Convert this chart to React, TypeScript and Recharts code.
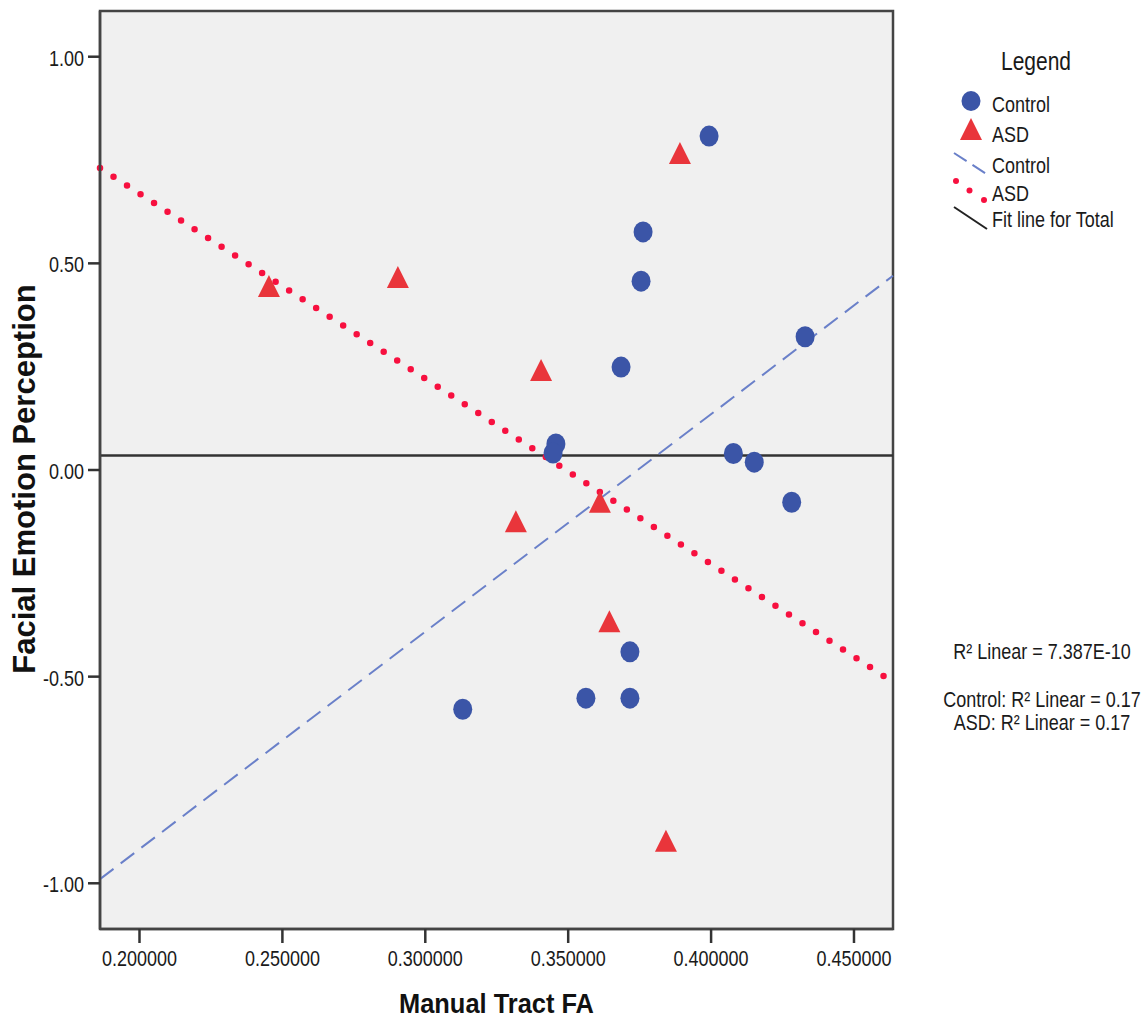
import {
  CartesianGrid,
  ReferenceArea,
  ReferenceLine,
  Scatter,
  ScatterChart,
  XAxis,
  YAxis,
} from 'recharts';

// values
const controlFA = [
  0.3993, 0.3762, 0.3755, 0.3685, 0.4329, 0.3457, 0.3447, 0.4078, 0.4151, 0.4282, 0.3716, 0.3562,
  0.3716, 0.3131,
];
const controlFEP = [
  0.808, 0.576, 0.457, 0.249, 0.3225, 0.063, 0.041, 0.04, 0.019, -0.078, -0.44, -0.552, -0.552,
  -0.579,
];
const asdFA = [0.3891, 0.2904, 0.2453, 0.3405, 0.3317, 0.3611, 0.3644, 0.3842];
const asdFEP = [0.767, 0.467, 0.445, 0.242, -0.124, -0.077, -0.366, -0.897];

const xDomain = [0.18618, 0.46365];
const yDomain = [-1.1106, 1.1106];
const xTicks = [0.2, 0.25, 0.3, 0.35, 0.4, 0.45];
const yTicks = [-1, -0.5, 0, 0.5, 1];

// fit line ends at the left / right edge of the plot
const controlFit = [-0.99, 0.47];
const asdFit = [0.731, -0.513];
const totalFit = [0.035, 0.035];

const legendItems = ['Control', 'ASD', 'Control', 'ASD', 'Fit line for Total'];
const rSquaredNotes = ['R² Linear = 7.387E-10', 'Control: R² Linear = 0.17', 'ASD: R² Linear = 0.17'];

const controlData = controlFA.map((x, i) => ({ x, y: controlFEP[i] }));
const asdData = asdFA.map((x, i) => ({ x, y: asdFEP[i] }));

const FONT = '"Liberation Sans", Arial, sans-serif';
const BLUE = '#3b55a7';
const RED = '#e9353b';
const DASH_BLUE = '#6a80c9';
const DOT_RED = '#f7103f';
const STRETCH = 1.22;

// SPSS output is a bit taller than wide, so text gets a small vertical stretch
const TallText = ({ x, y, anchor = 'start', size = 18, children }: any) => (
  <text
    transform={`translate(${x} ${y}) scale(1 ${STRETCH})`}
    textAnchor={anchor}
    fontSize={size}
    fontFamily={FONT}
    fill="#1a1a1a"
  >
    {children}
  </text>
);

const circleShape = (props: any) => (
  <ellipse cx={props.cx} cy={props.cy} rx={9.5} ry={10.5} fill={BLUE} />
);

const triangleShape = (props: any) => {
  const { cx, cy } = props;
  return (
    <polygon
      points={`${cx},${cy - 11} ${cx - 11},${cy + 11} ${cx + 11},${cy + 11}`}
      fill={RED}
    />
  );
};

const XTick = (props: any) => (
  <TallText x={props.x} y={props.y + 15} anchor="middle">
    {Number(props.payload.value).toFixed(6)}
  </TallText>
);

const YTick = (props: any) => (
  <TallText x={props.x} y={props.y + 9} anchor="end">
    {Number(props.payload.value).toFixed(2)}
  </TallText>
);

const XTitle = (props: any) => {
  const vb = props.viewBox;
  return (
    <text
      x={vb.x + vb.width / 2}
      y={1013}
      textAnchor="middle"
      fontSize={27}
      fontWeight="bold"
      fontFamily={FONT}
      textLength={195}
      lengthAdjust="spacingAndGlyphs"
      fill="#111"
    >
      Manual Tract FA
    </text>
  );
};

const YTitle = () => (
  <text
    x={35}
    y={479}
    transform="rotate(-90, 35, 479)"
    textAnchor="middle"
    fontSize={31}
    fontWeight="bold"
    fontFamily={FONT}
    fill="#111"
  >
    Facial Emotion Perception
  </text>
);

const Overlay = () => {
  const baselines = [112, 141.7, 172.7, 200.7, 226.7];
  return (
    <svg
      width={1148}
      height={1021}
      style={{ position: 'absolute', left: 0, top: 0, pointerEvents: 'none' }}
    >
      <TallText x={1001} y={70} size={21}>
        Legend
      </TallText>
      <ellipse cx={971} cy={101} rx={9.5} ry={10} fill={BLUE} />
      <polygon points="971,118 960,140 982,140" fill={RED} />
      <line
        x1={954}
        y1={153}
        x2={988}
        y2={175}
        stroke={DASH_BLUE}
        strokeWidth={2}
        strokeDasharray="15 7"
      />
      <circle cx={956} cy={181} r={3} fill={DOT_RED} />
      <circle cx={969.5} cy={190.5} r={3} fill={DOT_RED} />
      <circle cx={984} cy={200} r={3} fill={DOT_RED} />
      <line x1={954} y1={207} x2={987} y2={229} stroke="#222" strokeWidth={2} />
      {legendItems.map((label, i) => (
        <TallText key={i} x={992} y={baselines[i]}>
          {label}
        </TallText>
      ))}
      {rSquaredNotes.map((note, i) => (
        <TallText key={note} x={1042} y={[659, 707, 730][i]} anchor="middle">
          {note}
        </TallText>
      ))}
    </svg>
  );
};

export default function App() {
  return (
    <div
      style={{
        position: 'absolute',
        left: 0,
        top: 0,
        width: 1148,
        height: 1021,
        background: '#fff',
      }}
    >
      <ScatterChart
        width={1148}
        height={1021}
        margin={{ top: 11, right: 255, bottom: 32, left: 20 }}
      >
        <CartesianGrid horizontal={false} vertical={false} fill="#f0f0f0" />
        <XAxis
          type="number"
          dataKey="x"
          domain={xDomain}
          ticks={xTicks}
          allowDataOverflow
          height={60}
          tickSize={14}
          tickMargin={8}
          tick={<XTick />}
          tickLine={{ stroke: '#333', strokeWidth: 2.5 }}
          axisLine={{ stroke: '#444', strokeWidth: 2.5 }}
          label={<XTitle />}
        />
        <YAxis
          type="number"
          dataKey="y"
          domain={yDomain}
          ticks={yTicks}
          allowDataOverflow
          width={80}
          tickSize={12}
          tickMargin={4}
          tick={<YTick />}
          tickLine={{ stroke: '#333', strokeWidth: 2.5 }}
          axisLine={{ stroke: '#444', strokeWidth: 2.5 }}
          label={<YTitle />}
        />
        <ReferenceArea
          x1={xDomain[0]}
          x2={xDomain[1]}
          y1={yDomain[0]}
          y2={yDomain[1]}
          fill="none"
          stroke="#444"
          strokeWidth={2.5}
          ifOverflow="visible"
        />
        <Scatter data={controlData} shape={circleShape} isAnimationActive={false} />
        <Scatter data={asdData} shape={triangleShape} isAnimationActive={false} />
        <ReferenceLine
          segment={[
            { x: xDomain[0], y: totalFit[0] },
            { x: xDomain[1], y: totalFit[1] },
          ]}
          stroke="#333"
          strokeWidth={2.5}
          ifOverflow="visible"
        />
        <ReferenceLine
          segment={[
            { x: xDomain[0], y: controlFit[0] },
            { x: xDomain[1], y: controlFit[1] },
          ]}
          stroke={DASH_BLUE}
          strokeWidth={2}
          strokeDasharray="17 9"
          ifOverflow="visible"
        />
        <ReferenceLine
          segment={[
            { x: xDomain[0], y: asdFit[0] },
            { x: xDomain[1], y: asdFit[1] },
          ]}
          stroke={DOT_RED}
          strokeWidth={6.5}
          strokeDasharray="0 16.1"
          strokeLinecap="round"
          ifOverflow="visible"
        />
      </ScatterChart>
      <Overlay />
    </div>
  );
}
